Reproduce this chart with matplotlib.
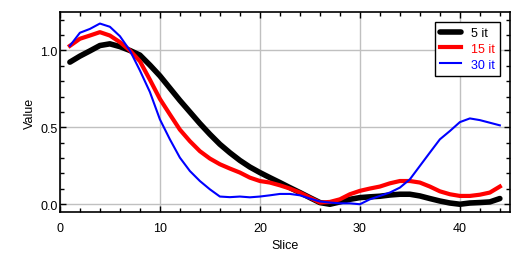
import numpy as np
import matplotlib.pyplot as plt
from matplotlib.ticker import MultipleLocator

plt.rcParams['font.family'] = ['Liberation Sans', 'DejaVu Sans']

slices = np.arange(1, 45)

it5 = [0.924, 0.963, 0.997, 1.032, 1.043, 1.025, 1.0, 0.97, 0.905, 0.835,
       0.755, 0.675, 0.6, 0.525, 0.455, 0.39, 0.335, 0.285, 0.242, 0.206,
       0.173, 0.141, 0.108, 0.076, 0.043, 0.011, 0.0, 0.015, 0.032, 0.043,
       0.048, 0.052, 0.06, 0.065, 0.065, 0.054, 0.037, 0.021, 0.008, 0.0,
       0.008, 0.011, 0.015, 0.037]

it15 = [1.03, 1.076, 1.097, 1.119, 1.097, 1.054, 1.0, 0.93, 0.81, 0.685,
        0.584, 0.485, 0.41, 0.345, 0.297, 0.26, 0.232, 0.206, 0.173, 0.151,
        0.141, 0.123, 0.102, 0.076, 0.043, 0.011, 0.015, 0.032, 0.065, 0.087,
        0.102, 0.115, 0.136, 0.151, 0.151, 0.141, 0.115, 0.084, 0.065, 0.054,
        0.054, 0.062, 0.076, 0.115]

it30 = [1.03, 1.115, 1.14, 1.175, 1.154, 1.093, 1.0, 0.87, 0.73, 0.552,
        0.422, 0.303, 0.216, 0.151, 0.097, 0.05, 0.046, 0.05, 0.045, 0.05,
        0.058, 0.067, 0.067, 0.058, 0.037, 0.018, 0.011, 0.006, 0.006, 0.0,
        0.032, 0.054, 0.076, 0.108, 0.162, 0.249, 0.336, 0.422, 0.476, 0.534,
        0.558, 0.547, 0.53, 0.513]

fig = plt.figure(figsize=(5.3, 2.55), dpi=100)
ax = fig.add_axes([0.113, 0.165, 0.849, 0.784])

ax.plot(slices, it5, color='black', lw=4, label='5 it', solid_capstyle='round')
ax.plot(slices, it15, color='red', lw=3, label='15 it')
ax.plot(slices, it30, color='blue', lw=1.5, label='30 it')

ax.set_xlim(0, 45)
ax.set_ylim(-0.05, 1.25)
ax.xaxis.set_major_locator(MultipleLocator(10))
ax.xaxis.set_minor_locator(MultipleLocator(2))
ax.yaxis.set_major_locator(MultipleLocator(0.5))
ax.yaxis.set_minor_locator(MultipleLocator(0.1))
ax.yaxis.set_major_formatter(plt.FormatStrFormatter('%.1f'))
ax.tick_params(which='both', direction='in', top=True, right=True,
               labelsize=9, width=1)
ax.tick_params(which='major', length=4)
ax.tick_params(which='minor', length=3)
ax.tick_params(axis='x', pad=7)
ax.tick_params(axis='y', pad=1.5)
ax.grid(True, which='major', color='#c0c0c0', lw=1)
ax.set_axisbelow(True)
for s in ax.spines.values():
    s.set_linewidth(1.2)

ax.set_xlabel('Slice', fontsize=9, labelpad=4)
ax.set_ylabel('Value', fontsize=9, labelpad=3)

leg = ax.legend(loc='upper right', fontsize=9, fancybox=False, framealpha=1,
                edgecolor='black', handlelength=1.7, borderaxespad=0.8,
                labelspacing=0.3)
leg.get_frame().set_linewidth(1)
for t, c in zip(leg.get_texts(), ['black', 'red', 'blue']):
    t.set_color(c)

fig.savefig('out.png', dpi=100)
